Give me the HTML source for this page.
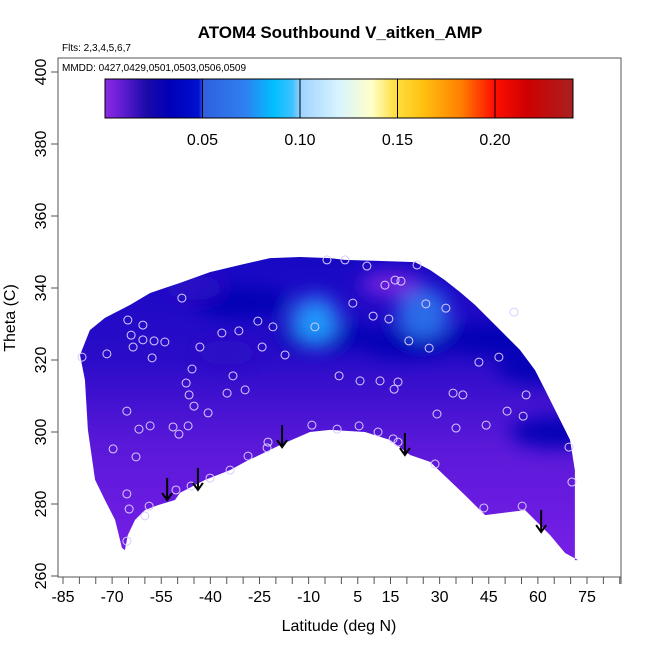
<!DOCTYPE html>
<html><head><meta charset="utf-8"><style>
body{margin:0;background:#fff;font-family:"Liberation Sans",sans-serif}
svg text{font-family:"Liberation Sans",sans-serif}
</style></head><body>
<svg id="chart" width="650" height="650" xmlns="http://www.w3.org/2000/svg">
<defs>
<linearGradient id="cbar" x1="0" x2="1" y1="0" y2="0">
<stop offset="0" stop-color="#8a2be2"/><stop offset="0.03" stop-color="#6a1fd8"/>
<stop offset="0.09" stop-color="#1a0aa8"/><stop offset="0.14" stop-color="#0000b8"/>
<stop offset="0.2" stop-color="#0010d0"/><stop offset="0.21" stop-color="#3060e0"/>
<stop offset="0.3" stop-color="#2f80f0"/><stop offset="0.36" stop-color="#00bfff"/>
<stop offset="0.4" stop-color="#40c0ff"/><stop offset="0.42" stop-color="#a0d4ff"/>
<stop offset="0.5" stop-color="#d8f4ff"/><stop offset="0.57" stop-color="#ffffc8"/>
<stop offset="0.62" stop-color="#ffe040"/><stop offset="0.68" stop-color="#ffc010"/>
<stop offset="0.76" stop-color="#ff8000"/><stop offset="0.83" stop-color="#ff1000"/>
<stop offset="0.9" stop-color="#d00000"/><stop offset="1" stop-color="#a82020"/>
</linearGradient>
<linearGradient id="vgrad" x1="0" x2="0" y1="0" y2="1">
<stop offset="0" stop-color="#1408c4"/><stop offset="0.35" stop-color="#2a0cc8"/>
<stop offset="0.6" stop-color="#5a18d8"/><stop offset="1" stop-color="#7c20ea"/>
</linearGradient>
<filter id="blur" x="-50%" y="-50%" width="200%" height="200%"><feGaussianBlur stdDeviation="9"/></filter>
<clipPath id="dom"><polygon id="domPoly"/></clipPath>
</defs>
<text x="340" y="38" text-anchor="middle" font-size="17" font-weight="bold">ATOM4 Southbound V_aitken_AMP</text>
<text x="62" y="51" font-size="10">Flts: 2,3,4,5,6,7</text>
<rect x="58" y="58" width="563" height="519" fill="none" stroke="#555" stroke-width="1"/>
<text x="62" y="71" font-size="10">MMDD: 0427,0429,0501,0503,0506,0509</text>
<g id="field" clip-path="url(#dom)"></g>
<g id="pts"></g>
<g id="arrows"></g>
<g id="colorbar">
<rect x="105" y="79" width="468" height="39" fill="url(#cbar)" stroke="#000" stroke-width="1"/>
</g>
<g id="xaxis"></g>
<g id="yaxis"></g>
<text x="339" y="631" text-anchor="middle" font-size="16">Latitude (deg N)</text>
<text transform="translate(15,318) rotate(-90)" text-anchor="middle" font-size="16">Theta (C)</text>
</svg>
<script>
const domainLat=[-79.8,-76.8,-72.2,-64.5,-58.4,-53.9,-49.3,-40.1,-31,-21.8,-12.6,-3.5,1.1,22.5,27.1,31.6,36.2,40.8,45.4,50,54.5,59.1,62.2,66.8,69.8,71.3,71.3,72.3,68.3,63.7,56.1,43.9,37.7,27.1,21,14.8,7.2,-3.5,-9.6,-18.7,-29.4,-34,-41.6,-49.3,-50.8,-56,-60,-63,-65.2,-66.1,-67,-69.1,-72.2,-75.2,-77.4,-78.3];
const domainTheta=[321.4,328.3,331.7,335.3,338.6,340,341.4,344.4,346.4,348.3,348.6,348.3,347.8,347.2,345,342.2,338.9,335.3,331.1,326.9,322.8,317.2,311.7,303.3,297.8,289.4,264.4,264.4,266.4,271.4,278.3,276.9,282.5,291.7,293.6,297.8,300,300.6,300,296.4,291.7,289.4,286.7,283.1,281.1,279.7,278.3,275.6,271.4,267.2,267.8,275.6,281.1,286.7,300.6,314.4];
const ptLat=[-48.7,-65.2,-60.6,-64.2,-60.6,-57.2,-53.9,-63.6,-71.6,-79.2,-57.8,-43.2,-36.5,-31.3,-25.5,-20.9,-8.1,-24.2,-17.2,-45.6,-33.1,-47.4,-46.5,-34.9,-29.4,-65.5,-45,-40.7,-61.8,-58.4,-51.4,-46.8,-49.6,-69.7,-62.7,-22.4,-22.7,-28.5,-34,-40.1,-45.9,-50.5,-65.5,-64.8,-58.7,-60,-65.5,-9,-1.3,-0.7,-4.4,1.1,7.8,16.4,18.2,13.3,23.1,3.5,25.8,31.9,9.7,14.5,20.6,26.8,42,48.1,52.7,5.7,11.8,17.3,16.1,34.1,37.1,56.4,29.2,50.6,55.5,35,44.2,5.4,11.2,15.8,17.3,28.6,69.5,70.4,43.5,55.2];
const ptTheta=[337.2,331.1,329.7,326.9,325.6,325.3,325,323.6,321.7,320.8,320.6,323.6,327.5,328.1,330.8,329.2,329.2,323.6,321.4,317.5,315.6,313.6,310.3,310.8,311.7,305.8,307.2,305.3,300.8,301.7,301.4,301.7,299.4,295.3,293.1,297.2,295.6,293.3,289.4,287.2,285,283.9,282.8,278.6,279.4,276.7,269.7,301.9,300.8,315.6,347.8,347.8,346.1,342.2,341.9,340.8,346.4,335.8,335.6,334.4,332.2,331.4,325.3,323.3,319.4,320.8,333.3,314.2,314.2,313.9,311.9,310.8,310.3,310.3,305,305.8,304.4,301.1,301.9,301.7,300,298.1,297.2,291.1,295.8,286.1,278.9,279.4];
const arrowLat=[-53.2,-43.8,-18.1,19.4,61];
const arrowTheta=[281.1,283.9,295.8,293.6,272.2];
// field features: lat, theta, value
const blobLat=[-30,-5,20,45,62,66,-45,-8,-8,25,15,-35];
const blobTheta=[336,327,325,326,318,300,340,331,330,333,341,322];
const blobVal=[0.02,0.02,0.02,0.02,0.025,0.02,0.015,0.06,0.09,0.07,0.005,0.015];
const xTicks=[-85,-70,-55,-40,-25,-10,5,15,30,45,60,75];
const yTicks=[260,280,300,320,340,360,380,400];
const cbTicks=[0.05,0.10,0.15,0.20];

const X=l=>63+(l+85)*3.275;
const Y=t=>576-(t-260)*3.6;
const C=v=>105+v/0.05*97.5;
const NS="http://www.w3.org/2000/svg";
function mk(tag,attrs,parent){const e=document.createElementNS(NS,tag);for(const k in attrs)e.setAttribute(k,attrs[k]);parent.appendChild(e);return e;}
function col(v){if(v>0.075)return "#1aa0ff";if(v>0.05)return "#2a70ea";if(v>0.03)return "#0a10d0";if(v>0.018)return "#0000b4";if(v>0.01)return "#2a10c4";return "#7a22e0";}
function rx(v){if(v>0.075)return 14;if(v>0.05)return 26;if(v>0.018)return 48;return 30;}
function ry(v){if(v>0.075)return 16;if(v>0.05)return 26;if(v>0.018)return 16;return 12;}

document.getElementById('domPoly').setAttribute('points',domainLat.map((l,i)=>X(l)+','+Y(domainTheta[i])).join(' '));
const field=document.getElementById('field');
let bg=mk('rect',{x:60,y:240,width:530,height:340,fill:'url(#vgrad)'},field);


const bl=mk('g',{filter:'url(#blur)'},field);
blobLat.forEach((l,i)=>{
  const v=blobVal[i];
  const e=mk('ellipse',{cx:X(l),cy:Y(blobTheta[i]),rx:rx(v),ry:ry(v),fill:col(v),opacity:0.95},bl);
  
  
});
const pts=document.getElementById('pts');
ptLat.forEach((l,i)=>{
  const c=mk('circle',{cx:X(l),cy:Y(ptTheta[i]),r:4,fill:'none',stroke:'#d8ccff','stroke-width':1},pts);
  
  
});
const ar=document.getElementById('arrows');
arrowLat.forEach((l,i)=>{
  const x=X(l),y=Y(arrowTheta[i]);
  const g=mk('g',{stroke:'#000','stroke-width':2,fill:'none'},ar);
  
  
  mk('line',{x1:x,y1:y-22,x2:x,y2:y},g);
  mk('polyline',{points:(x-5)+','+(y-7)+' '+x+','+y+' '+(x+5)+','+(y-7)},g);
});
const cb=document.getElementById('colorbar');
cbTicks.forEach(v=>{
  mk('line',{x1:C(v),x2:C(v),y1:79,y2:118,stroke:'#000','stroke-width':1},cb);
  const t=mk('text',{x:C(v),y:145,'text-anchor':'middle','font-size':16},cb);
  t.textContent=v.toFixed(2);
  
  
});
const xa=document.getElementById('xaxis');
mk('line',{x1:58,x2:621,y1:577,y2:577,stroke:'#555'},xa);
for(let l=-85;l<=85;l+=5){const x=X(l);if(x>622)break;mk('line',{x1:x,x2:x,y1:577,y2:584,stroke:'#555'},xa);}
mk('line',{x1:621,x2:621,y1:577,y2:584,stroke:'#555'},xa);
xTicks.forEach(l=>{
  const t=mk('text',{x:X(l),y:602,'text-anchor':'middle','font-size':16},xa);
  t.textContent=l;
  
  
});
const ya=document.getElementById('yaxis');
yTicks.forEach(v=>{
  const y=Y(v);
  mk('line',{x1:51,x2:58,y1:y,y2:y,stroke:'#555'},ya);
  const t=mk('text',{transform:'translate(46,'+y+') rotate(-90)','text-anchor':'middle','font-size':16},ya);
  t.textContent=v;
  
  
});
</script>
</body></html>
